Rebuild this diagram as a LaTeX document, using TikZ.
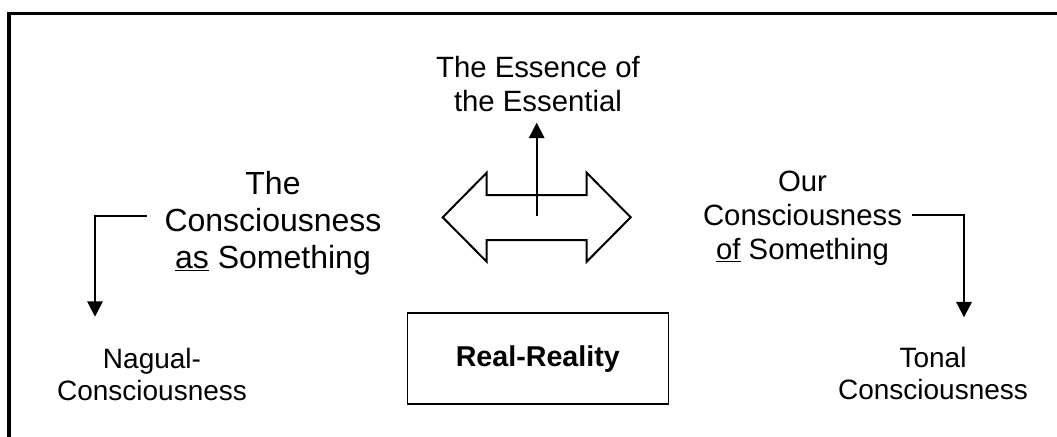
\documentclass[tikz,border=0pt]{standalone}
\usepackage{fontspec}
\setmainfont{Liberation Sans}
\usetikzlibrary{arrows.meta}
\begin{document}
\begin{tikzpicture}[x=0.75pt,y=-0.75pt,
  lbl/.style={align=center,inner sep=0pt,font=\fontsize{22}{25.3}\selectfont},
  lowlbl/.style={align=center,inner sep=0pt,font=\fontsize{21}{24}\selectfont},
  conn/.style={line width=1.5pt,-{Triangle[length=11.5pt,width=11.5pt]}}]
\useasboundingbox (0,0) rectangle (1057,436);
% outer frame (only top and left edge inside the page)
\draw[line width=2.6pt] (9,470) -- (9,13.5) -- (1090,13.5);
% texts
\node[lbl] (essence) at (538,84) {The Essence of\\the Essential};
\node[lbl,font=\fontsize{24}{27.6}\selectfont] (assome) at (273,223) {The\\Consciousness\\\underline{as} Something};
\node[lbl] (ofsome) at (802.5,218.5) {Our\\Consciousness\\\underline{of} Something};
\node[lowlbl] (nagual) at (152,374) {Nagual-\\Consciousness};
\node[lowlbl] (tonal) at (933,373) {Tonal\\Consciousness};
\node[draw,line width=1.1pt,minimum width=195.75pt,minimum height=68.25pt,
  font=\fontsize{21.5}{24}\selectfont\bfseries] (real) at (537.8,358.7) {Real-Reality};
% double arrow in the middle
\draw[line width=1.5pt,fill=white] (442.7,217.3) -- (486.7,172.7) -- (486.7,195) -- (586.7,195)
  -- (586.7,172.7) -- (630.7,217.3) -- (586.7,261.7) -- (586.7,240) -- (486.7,240)
  -- (486.7,261.7) -- cycle;
\coordinate (dblc) at (536.7,215.7);
\coordinate (etip) at (536.7,122.7);
\draw[conn] (dblc) -- (etip);
% side connectors
\coordinate (lstart) at (146.7,215.7);
\coordinate (lturn) at (95,215.7);
\coordinate (lend) at (95,316.7);
\draw[conn] (lstart) -- (lturn) -- (lend);
\coordinate (rstart) at (911.7,215);
\coordinate (rturn) at (964,215);
\coordinate (rend) at (964,317.3);
\draw[conn] (rstart) -- (rturn) -- (rend);
\end{tikzpicture}
\end{document}
